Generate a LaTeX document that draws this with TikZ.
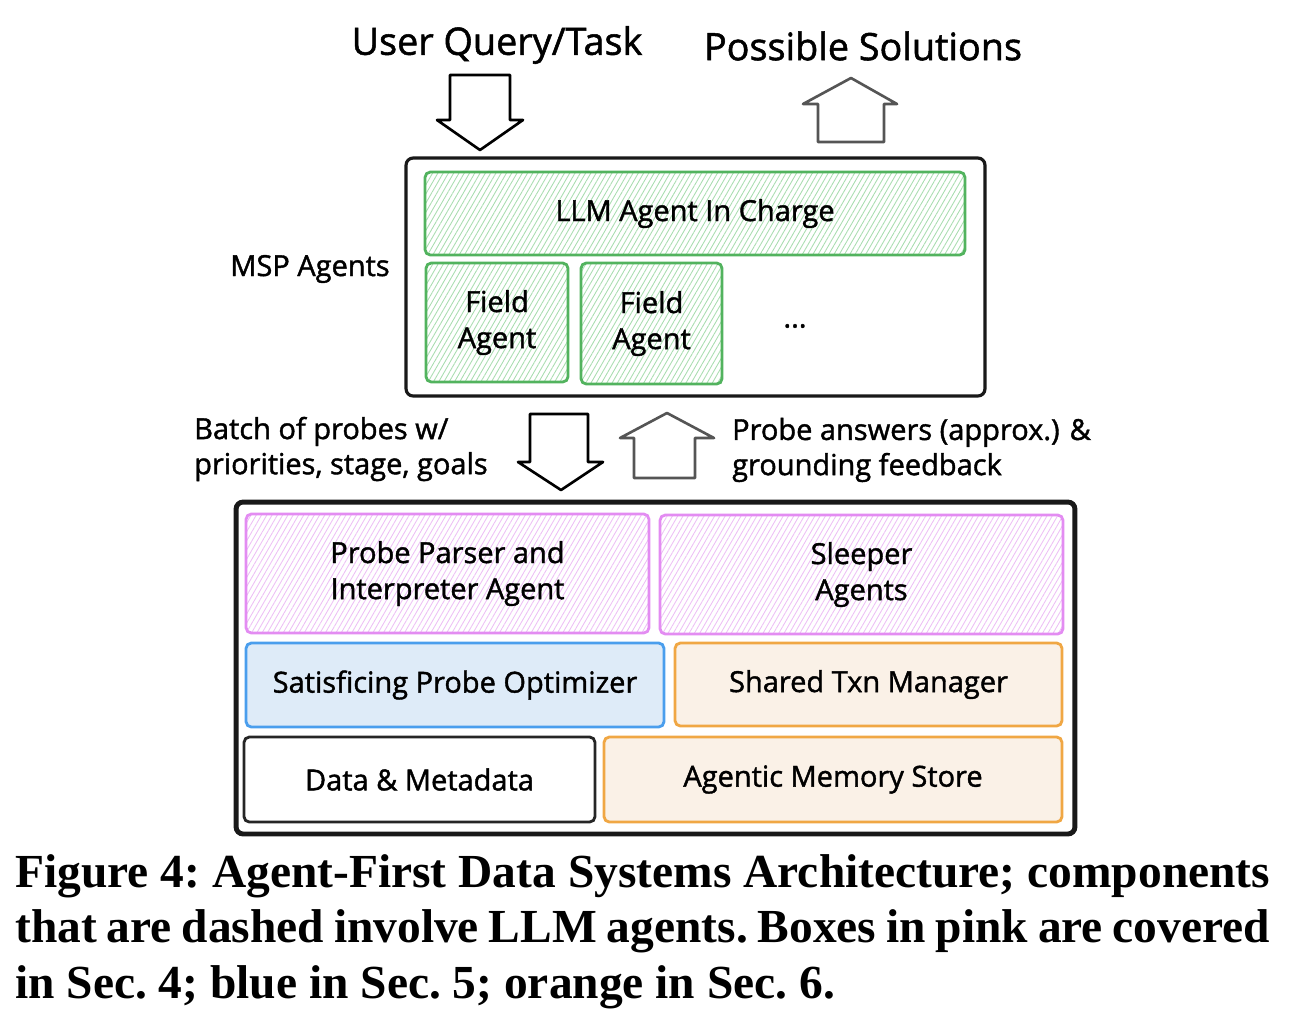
\documentclass[tikz,border=0pt]{standalone}
\usepackage{fontspec}
\setmainfont{Liberation Serif}
\newfontfamily\handfont[FakeBold=1.4]{Open Sans}
\usetikzlibrary{patterns.meta}

\definecolor{grnline}{HTML}{52B35E}
\definecolor{grnhatch}{HTML}{A9DDB0}
\definecolor{pnkline}{HTML}{E38CF2}
\definecolor{pnkhatch}{HTML}{EDC0F5}
\definecolor{bluline}{HTML}{4A9EED}
\definecolor{blufill}{HTML}{DEEBF8}
\definecolor{orgline}{HTML}{F0A744}
\definecolor{orgfill}{HTML}{FAF1E7}
\definecolor{upgray}{HTML}{555555}

\begin{document}
\begin{tikzpicture}[x=0.02cm,y=-0.02cm,
  box/.style={draw, rounded corners=3pt, line width=1.6pt, align=center,
    font=\handfont\fontsize{16.5}{20.5}\selectfont, inner sep=0pt},
  greenbox/.style={box, draw=grnline,
    pattern={Lines[angle=60,distance=2.6pt,line width=0.5pt]}, pattern color=grnhatch},
  pinkbox/.style={box, draw=pnkline,
    pattern={Lines[angle=60,distance=2.6pt,line width=0.5pt]}, pattern color=pnkhatch},
  bluebox/.style={box, draw=bluline, fill=blufill},
  orangebox/.style={box, draw=orgline, fill=orgfill},
  plainbox/.style={box, draw=black!85},
  frame/.style={draw=black!90, rounded corners=4pt},
  blockarrow/.style={draw, line width=1.5pt, line join=round},
  label/.style={font=\handfont\fontsize{16.5}{20}\selectfont, align=left},
  title/.style={font=\handfont\fontsize{21.5}{25}\selectfont}]
\useasboundingbox (0,0) rectangle (1314,1032);

% titles and hollow arrows on top
\node[title] (query) at (497,45) {User Query/Task};
\node[title] (sols) at (863,46) {Possible Solutions};
\draw[blockarrow] (450,75) -- (510,75) -- (510,120) -- (523,120) -- (480,150)
  -- (437,120) -- (450,120) -- cycle;
\draw[blockarrow,upgray] (818,142) -- (884,142) -- (884,104) -- (897,104) -- (851,78)
  -- (803,104) -- (818,104) -- cycle;

% MSP agents
\node[frame, line width=1.8pt, minimum width=11.58cm, minimum height=4.76cm]
  (msp) at (695.5,277) {};
\node[greenbox, minimum width=10.8cm, minimum height=1.66cm] (charge) at (695,213.5)
  {LLM Agent In Charge};
\node[greenbox, minimum width=2.84cm, minimum height=2.38cm] (field1) at (497,322.5)
  {Field\\Agent};
\node[greenbox, minimum width=2.82cm, minimum height=2.42cm] (field2) at (651.5,323.5)
  {Field\\Agent};
\node[label] (dots) at (795,326) {...};
\node[label] (msplabel) at (310,269) {MSP Agents};

% probes in between
\draw[blockarrow] (530,414) -- (588,414) -- (588,462) -- (603,462) -- (561,490)
  -- (518,462) -- (530,462) -- cycle;
\draw[blockarrow,upgray] (634,478) -- (695,478) -- (695,438) -- (714,438) -- (667,413)
  -- (620,438) -- (634,438) -- cycle;
\node[label, anchor=west] (batch) at (188,449) {Batch of probes w/\\priorities, stage, goals};
\node[label, anchor=west] (answers) at (726,450) {Probe answers (approx.) \&\\grounding feedback};

% data system
\node[frame, line width=2.8pt, minimum width=16.78cm, minimum height=6.64cm]
  (sys) at (655.5,668) {};
\node[pinkbox, minimum width=8.06cm, minimum height=2.38cm] (parser) at (447.5,573.5)
  {Probe Parser and\\Interpreter Agent};
\node[pinkbox, minimum width=8.06cm, minimum height=2.38cm] (sleeper) at (861.5,574.5)
  {Sleeper\\Agents};
\node[bluebox, minimum width=8.36cm, minimum height=1.68cm] (optim) at (455,685)
  {Satisficing Probe Optimizer};
\node[orangebox, minimum width=7.74cm, minimum height=1.66cm] (txn) at (868.5,684.5)
  {Shared Txn Manager};
\node[plainbox, minimum width=7.02cm, minimum height=1.7cm] (data) at (419.5,779.5)
  {Data \& Metadata};
\node[orangebox, minimum width=9.16cm, minimum height=1.7cm] (memory) at (833,779.5)
  {Agentic Memory Store};

% caption
\node[anchor=north west, inner sep=0pt, text width=25.1cm, align=justify,
  font=\bfseries\fontsize{27}{31.7}\selectfont\frenchspacing] (caption) at (15,854)
  {Figure 4: Agent-First Data Systems Architecture; components\linebreak
   that are dashed involve LLM agents. Boxes in pink are covered\linebreak
   in Sec. 4; blue in Sec. 5; orange in Sec. 6.};
\end{tikzpicture}
\end{document}
